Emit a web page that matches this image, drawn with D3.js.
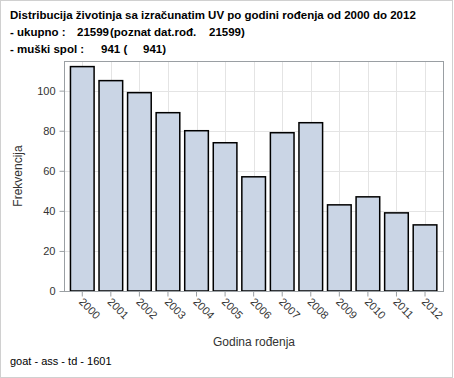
<!DOCTYPE html>
<html>
<head>
<meta charset="utf-8">
<script src="https://cdn.jsdelivr.net/npm/d3@7"></script>
<style>
  body { margin: 0; background: #fff; }
  svg { display: block; font-family: "Liberation Sans", Arial, sans-serif; }
</style>
</head>
<body>
<div id="chart"></div>
<script>
// podaci
const years = ["2000", "2001", "2002", "2003", "2004", "2005", "2006", "2007", "2008", "2009", "2010", "2011", "2012"];
const counts = [112, 105, 99, 89, 80, 74, 57, 79, 84, 43, 47, 39, 33];
const yTicks = [0, 20, 40, 60, 80, 100];

const W = 454, H = 378;
const plot = { left: 64, right: 444, top: 61, bottom: 291 };

const svg = d3.select("#chart").append("svg")
    .attr("width", W).attr("height", H);

// okvir slike
svg.append("rect")
    .attr("x", 0.5).attr("y", 0.5).attr("width", W - 2).attr("height", H - 1)
    .attr("fill", "#fff").attr("stroke", "#d0d0d0");

// naslov
const title = svg.append("g").attr("font-weight", "bold").attr("font-size", 11.5).attr("fill", "#000");
title.append("text").attr("x", 10).attr("y", 19)
    .text("Distribucija životinja sa izračunatim UV po godini rođenja od 2000 do 2012");
const l2 = title.append("text").attr("y", 36);
l2.append("tspan").attr("x", 10).text("- ukupno :");
l2.append("tspan").attr("x", 77).text("21599");
l2.append("tspan").attr("x", 110).text("(poznat dat.rođ.");
l2.append("tspan").attr("x", 209).text("21599)");
const l3 = title.append("text").attr("y", 53);
l3.append("tspan").attr("x", 10).text("- muški spol :");
l3.append("tspan").attr("x", 101).text("941 (");
l3.append("tspan").attr("x", 143).text("941)");

// skale
const x = d3.scaleBand().domain(years).range([68, 439.3]).paddingInner(0.12).paddingOuter(0.06);
const y = d3.scaleLinear().domain([0, 114.8]).range([plot.bottom, plot.top]);

// mreža
const grid = svg.append("g").attr("stroke", "#e4e4e4").attr("stroke-width", 1);
grid.selectAll("line.v").data(years).join("line")
    .attr("x1", d => Math.round(x(d) + x.bandwidth() / 2) + 0.5)
    .attr("x2", d => Math.round(x(d) + x.bandwidth() / 2) + 0.5)
    .attr("y1", plot.top).attr("y2", plot.bottom);
grid.selectAll("line.h").data(yTicks.slice(1)).join("line")
    .attr("x1", plot.left).attr("x2", plot.right)
    .attr("y1", d => Math.round(y(d)) + 0.5).attr("y2", d => Math.round(y(d)) + 0.5);

// stupci
svg.append("g").selectAll("rect").data(counts).join("rect")
    .attr("x", (d, i) => x(years[i]) + 0.75)
    .attr("y", d => y(d))
    .attr("width", x.bandwidth() - 1.5)
    .attr("height", d => plot.bottom - y(d))
    .attr("fill", "#cad5e5")
    .attr("stroke", "#000")
    .attr("stroke-width", 1.5);

// okvir grafa
svg.append("rect")
    .attr("x", plot.left + 0.5).attr("y", plot.top + 0.5)
    .attr("width", plot.right - plot.left - 1).attr("height", plot.bottom - plot.top)
    .attr("fill", "none").attr("stroke", "#9a9fa3");

// y os
const yAxis = svg.append("g")
    .attr("transform", `translate(${plot.left + 0.5},0)`)
    .call(d3.axisLeft(y).tickValues(yTicks).tickSize(5).tickPadding(4));
yAxis.select(".domain").remove();
yAxis.selectAll("line").attr("stroke", "#9a9fa3");
yAxis.selectAll("text").attr("font-size", 11).attr("fill", "#333")
    .attr("font-family", "Liberation Sans, Arial, sans-serif");

// x os
const xAxis = svg.append("g")
    .attr("transform", `translate(0,${plot.bottom + 0.5})`)
    .call(d3.axisBottom(x).tickSize(5).tickPadding(4));
xAxis.select(".domain").remove();
xAxis.selectAll("line").attr("stroke", "#9a9fa3");
xAxis.selectAll("text")
    .attr("font-size", 11).attr("fill", "#333")
    .attr("font-family", "Liberation Sans, Arial, sans-serif")
    .attr("text-anchor", "start")
    .attr("y", 0).attr("dy", 0)
    .attr("transform", "translate(-4,11) rotate(45)");

// naslovi osi
svg.append("text")
    .attr("x", (plot.left + plot.right) / 2).attr("y", 346)
    .attr("text-anchor", "middle").attr("font-size", 12).attr("fill", "#333")
    .text("Godina rođenja");
svg.append("text")
    .attr("transform", `translate(22,${(plot.top + plot.bottom) / 2}) rotate(-90)`)
    .attr("text-anchor", "middle").attr("font-size", 12).attr("fill", "#333")
    .text("Frekvencija");

// fusnota
svg.append("text").attr("x", 10).attr("y", 365)
    .attr("font-size", 11).attr("fill", "#000")
    .text("goat - ass - td - 1601");
</script>
</body>
</html>
